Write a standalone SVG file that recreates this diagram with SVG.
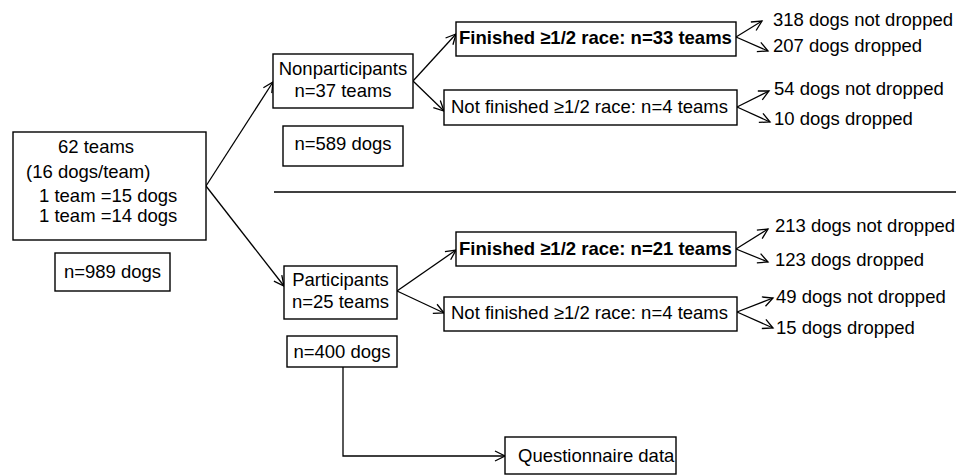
<svg xmlns="http://www.w3.org/2000/svg" width="958" height="476" viewBox="0 0 958 476">
<style>
.box{fill:#fff;stroke:#000;stroke-width:1.4}
.t{font-family:"Liberation Sans",Arial,sans-serif;font-size:18.5px;fill:#000}
.b{font-weight:bold}
.m{text-anchor:middle}
.c{fill:none;stroke:#000;stroke-width:1.3}
</style>
<defs>
<marker id="ah" markerUnits="userSpaceOnUse" markerWidth="14" markerHeight="14" refX="11" refY="6" orient="auto">
<path d="M1,1 L11,6 L1,11" fill="none" stroke="#000" stroke-width="1.3"/>
</marker>
</defs>
<rect width="958" height="476" fill="#fff"/>
<g id="connectors">
<line class="c" x1="206" y1="186" x2="273" y2="82" marker-end="url(#ah)"/>
<line class="c" x1="206" y1="186" x2="284" y2="286" marker-end="url(#ah)"/>
<line class="c" x1="413" y1="81" x2="456" y2="34" marker-end="url(#ah)"/>
<line class="c" x1="413" y1="81" x2="444" y2="111" marker-end="url(#ah)"/>
<line class="c" x1="397" y1="291" x2="456" y2="250" marker-end="url(#ah)"/>
<line class="c" x1="397" y1="291" x2="444" y2="313" marker-end="url(#ah)"/>
<line class="c" x1="736" y1="37" x2="762" y2="21" marker-end="url(#ah)"/>
<line class="c" x1="736" y1="37" x2="768" y2="51" marker-end="url(#ah)"/>
<line class="c" x1="737" y1="107" x2="769" y2="91" marker-end="url(#ah)"/>
<line class="c" x1="737" y1="107" x2="770" y2="122" marker-end="url(#ah)"/>
<line class="c" x1="736" y1="249" x2="768" y2="229" marker-end="url(#ah)"/>
<line class="c" x1="736" y1="249" x2="768" y2="262" marker-end="url(#ah)"/>
<line class="c" x1="737" y1="312" x2="773" y2="298" marker-end="url(#ah)"/>
<line class="c" x1="737" y1="312" x2="773" y2="328" marker-end="url(#ah)"/>
<polyline class="c" points="343,367 343,456 505,456" marker-end="url(#ah)"/>
<line class="c" x1="274" y1="192" x2="956" y2="192"/>
</g>
<g id="main">
<rect class="box" x="13" y="132" width="193" height="108"/>
<text class="t" x="58" y="153">62 teams</text>
<text class="t" x="26" y="178">(16 dogs/team)</text>
<text class="t" x="39" y="202">1 team =15 dogs</text>
<text class="t" x="39" y="222">1 team =14 dogs</text>
</g>
<g id="n989">
<rect class="box" x="55" y="253" width="115" height="38"/>
<text class="t m" x="112.5" y="278">n=989 dogs</text>
</g>
<g id="nonparticipants">
<rect class="box" x="273" y="54" width="140" height="54"/>
<text class="t m" x="343" y="75">Nonparticipants</text>
<text class="t m" x="343" y="97">n=37 teams</text>
</g>
<g id="n589">
<rect class="box" x="283" y="126" width="120" height="40"/>
<text class="t m" x="343" y="150">n=589 dogs</text>
</g>
<g id="participants">
<rect class="box" x="284" y="266" width="113" height="53"/>
<text class="t m" x="340.5" y="286">Participants</text>
<text class="t m" x="340.5" y="308">n=25 teams</text>
</g>
<g id="n400">
<rect class="box" x="287" y="336" width="110" height="31"/>
<text class="t m" x="342" y="358">n=400 dogs</text>
</g>
<g id="fin1">
<rect class="box" x="456" y="22" width="280" height="34"/>
<text class="t b" x="459" y="44">Finished ≥1/2 race: n=33 teams</text>
</g>
<g id="notfin1">
<rect class="box" x="444" y="90" width="293" height="35"/>
<text class="t" x="451" y="113">Not finished ≥1/2 race: n=4 teams</text>
</g>
<g id="fin2">
<rect class="box" x="456" y="232" width="280" height="34"/>
<text class="t b" x="459" y="255">Finished ≥1/2 race: n=21 teams</text>
</g>
<g id="notfin2">
<rect class="box" x="444" y="297" width="293" height="34"/>
<text class="t" x="451" y="319">Not finished ≥1/2 race: n=4 teams</text>
</g>
<g id="outcomes">
<text class="t" x="773" y="26">318 dogs not dropped</text>
<text class="t" x="773" y="52">207 dogs dropped</text>
<text class="t" x="774" y="95">54 dogs not dropped</text>
<text class="t" x="774" y="125">10 dogs dropped</text>
<text class="t" x="775" y="232">213 dogs not dropped</text>
<text class="t" x="775" y="266">123 dogs dropped</text>
<text class="t" x="776" y="303">49 dogs not dropped</text>
<text class="t" x="776" y="334">15 dogs dropped</text>
</g>
<g id="questionnaire">
<rect class="box" x="505" y="437" width="171" height="37"/>
<text class="t" x="518" y="462">Questionnaire data</text>
</g>
</svg>
